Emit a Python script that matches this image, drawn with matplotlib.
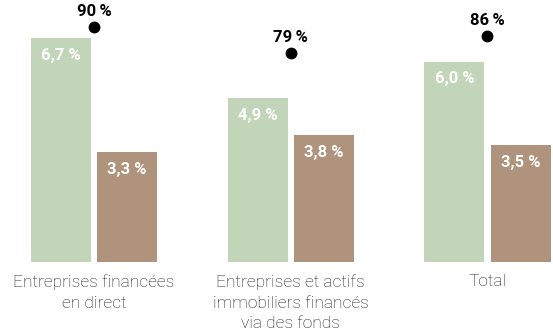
import matplotlib
matplotlib.use("Agg")
import matplotlib.pyplot as plt
import numpy as np

categories = ["Entreprises financées\nen direct",
              "Entreprises et actifs\nimmobiliers financés\nvia des fonds",
              "Total"]
green_values = [6.7, 4.9, 6.0]
brown_values = [3.3, 3.8, 3.5]
dot_values = [90, 79, 86]

green = "#c3d5b8"
brown = "#b0937c"

plt.rcParams["font.family"] = ["Roboto", "DejaVu Sans"]

fig = plt.figure(figsize=(5.53, 3.32), dpi=100)
ax = fig.add_axes([0, 0.211, 1, 0.789])

x = np.arange(len(categories))
width = 0.305
offset = 0.168

bars_g = ax.bar(x - offset, green_values, width, color=green)
bars_b = ax.bar(x + offset, brown_values, width, color=brown)

for bars, vals in ((bars_g, green_values), (bars_b, brown_values)):
    for bar, v in zip(bars, vals):
        ax.annotate(f"{v:.1f} %".replace(".", ","),
                    (bar.get_x() + bar.get_width() / 2, v),
                    xytext=(0, -7), textcoords="offset points",
                    ha="center", va="top", color="white",
                    fontsize=12, fontweight="bold")

ax.set_ylim(0, 7.85)
ax.set_xlim(-0.478, 2.333)
ax.set_xticks(x)
ax.set_xticklabels(categories, fontsize=12.5, fontweight="light",
                   color="#1a1a1a", linespacing=1.45)
ax.tick_params(axis="x", length=0, pad=9)
ax.set_yticks([])
for s in ax.spines.values():
    s.set_visible(False)

ax2 = ax.twinx()
ax2.set_ylim(-9.6, 101.4)
ax2.plot(x, dot_values, "o", color="black", markersize=7.5, linestyle="")
for xi, v in zip(x, dot_values):
    ax2.annotate(f"{v}\u2009%", (xi, v), xytext=(0, 6),
                 textcoords="offset points", ha="center", va="bottom",
                 fontsize=12, fontweight="bold", color="black",
                 annotation_clip=False)
ax2.set_yticks([])
for s in ax2.spines.values():
    s.set_visible(False)

fig.savefig("out.png", dpi=100)
